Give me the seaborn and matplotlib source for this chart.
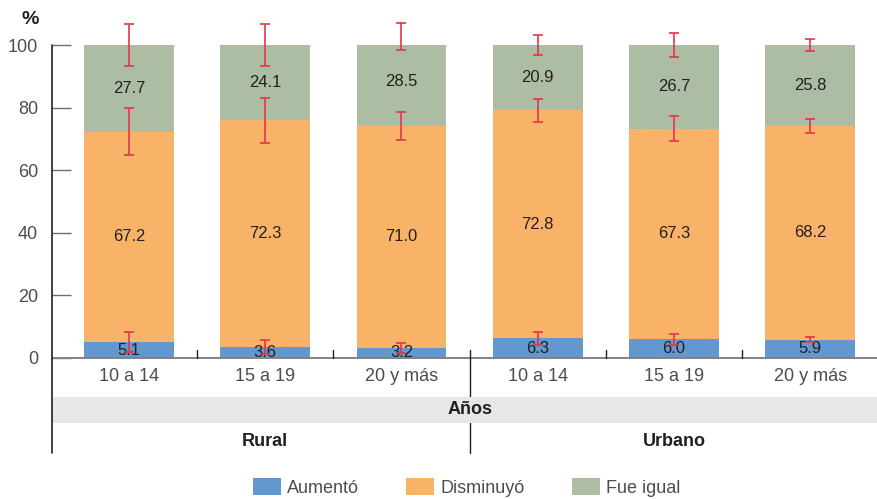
import matplotlib
matplotlib.use("Agg")
import matplotlib.pyplot as plt
import matplotlib.transforms as mtransforms
from matplotlib.patches import Rectangle, Patch
from matplotlib.lines import Line2D
import seaborn as sns
import pandas as pd
import numpy as np

# ---- data ----
keys = ["R1", "R2", "R3", "U1", "U2", "U3"]
tick_labels = ["10 a 14", "15 a 19", "20 y más", "10 a 14", "15 a 19", "20 y más"]
groups = ["Rural", "Urbano"]
aumento = [5.1, 3.6, 3.2, 6.3, 6.0, 5.9]
disminuyo = [67.2, 72.3, 71.0, 72.8, 67.3, 68.2]
igual = [27.7, 24.1, 28.5, 20.9, 26.7, 25.8]
err_aumento = [3.3, 2.3, 1.5, 2.0, 1.7, 0.8]
err_disminuyo = [7.5, 7.3, 4.5, 3.7, 4.0, 2.1]
err_igual = [6.8, 6.8, 4.4, 3.2, 3.8, 1.9]
series_names = ["Aumentó", "Disminuyó", "Fue igual"]

colors = {"Aumentó": "#6397cf", "Disminuyó": "#f9b368", "Fue igual": "#adbda4"}
err_color = "#e8334a"
txt_dark = "#231f20"

sns.set_theme(style="white")
plt.rcParams["font.family"] = ["Liberation Sans", "DejaVu Sans"]

df = pd.DataFrame({"key": keys, "a": aumento, "d": disminuyo, "i": igual})
df["c1"] = df["a"]
df["c2"] = df["a"] + df["d"]
df["c3"] = df["a"] + df["d"] + df["i"]

fig = plt.figure(figsize=(8.77, 4.99), dpi=100)
ax = fig.add_axes([52/877, (499-358)/499, 825/877, (358-45)/499])

bw = 0.66
sns.barplot(data=df, x="key", y="c3", order=keys, color=colors["Fue igual"],
            width=bw, saturation=1, ax=ax, errorbar=None, zorder=2)
sns.barplot(data=df, x="key", y="c2", order=keys, color=colors["Disminuyó"],
            width=bw, saturation=1, ax=ax, errorbar=None, zorder=2)
sns.barplot(data=df, x="key", y="c1", order=keys, color=colors["Aumentó"],
            width=bw, saturation=1, ax=ax, errorbar=None, zorder=2)
for p in ax.patches:
    p.set_edgecolor("none")

xs = np.arange(len(keys))
for cum, err in [(df["c1"], err_aumento), (df["c2"], err_disminuyo), (df["c3"], err_igual)]:
    ax.errorbar(xs, cum, yerr=err, fmt="none", ecolor=err_color, elinewidth=1.2,
                capsize=3.8, capthick=1.2, zorder=5, clip_on=False)

# value labels
for x, a, d, i in zip(xs, aumento, disminuyo, igual):
    ax.text(x, a / 2, f"{a:.1f}", ha="center", va="center", fontsize=12, color=txt_dark, zorder=4)
    ax.text(x, a + d / 2, f"{d:.1f}", ha="center", va="center", fontsize=12, color=txt_dark, zorder=4)
    ax.text(x, a + d + i / 2, f"{i:.1f}", ha="center", va="center", fontsize=12, color=txt_dark, zorder=4)

ax.set_xlim(-0.565, 5.49)
ax.set_ylim(0, 100)
ax.set_yticks([0, 20, 40, 60, 80, 100])
ax.set_xticks(xs)
ax.set_xticklabels(tick_labels)
ax.tick_params(axis="y", direction="in", length=14, width=1, color="#6d6e71",
               pad=10, labelsize=13, labelcolor="#4d4d4f", left=True)
ax.tick_params(axis="x", length=0, pad=7, labelsize=13, labelcolor="#4d4d4f")
ax.set_xlabel("")
ax.set_ylabel("")
for s in ["top", "right", "left"]:
    ax.spines[s].set_visible(False)
ax.spines["bottom"].set_color("#808285")
ax.spines["bottom"].set_linewidth(1.4)

trans = mtransforms.blended_transform_factory(ax.transAxes, ax.transData)
# left spine extended
ax.add_line(Line2D([0, 0], [-30.4, 100], transform=trans, color="#231f20", lw=1.2, clip_on=False, zorder=6))
# separators
for sx in [0.5, 1.5, 3.5, 4.5]:
    ax.add_line(Line2D([sx, sx], [0, 2.5], color="#231f20", lw=1, clip_on=False, zorder=6))
ax.add_line(Line2D([2.5, 2.5], [2.5, -30.4], color="#231f20", lw=1, clip_on=False, zorder=3))
# gray band
ax.add_patch(Rectangle((0, -20.8), 1.0, 8.3, transform=trans, facecolor="#e6e7e8",
                       edgecolor="none", clip_on=False, zorder=4))
ax.text(2.5, -16.6, "Años", ha="center", va="center", fontsize=13, fontweight="bold",
        color=txt_dark, zorder=7)
ax.text(1.0, -26.8, groups[0], ha="center", va="center", fontsize=13, fontweight="bold",
        color=txt_dark)
ax.text(4.0, -26.8, groups[1], ha="center", va="center", fontsize=13, fontweight="bold",
        color=txt_dark)
ax.text(-0.027, 108, "%", transform=trans, ha="center", va="center", fontsize=14,
        fontweight="bold", color=txt_dark)

handles = [Patch(facecolor=colors[n], edgecolor="none") for n in series_names]
fig.legend(handles, series_names, loc="upper center", bbox_to_anchor=(0.532, 0.042),
           ncol=3, frameon=False, fontsize=13, handlelength=1.55, handleheight=1.1,
           handletextpad=0.35, columnspacing=2.6, labelcolor="#4d4d4f",
           borderaxespad=0, borderpad=0)

fig.savefig("out.png", dpi=100)
